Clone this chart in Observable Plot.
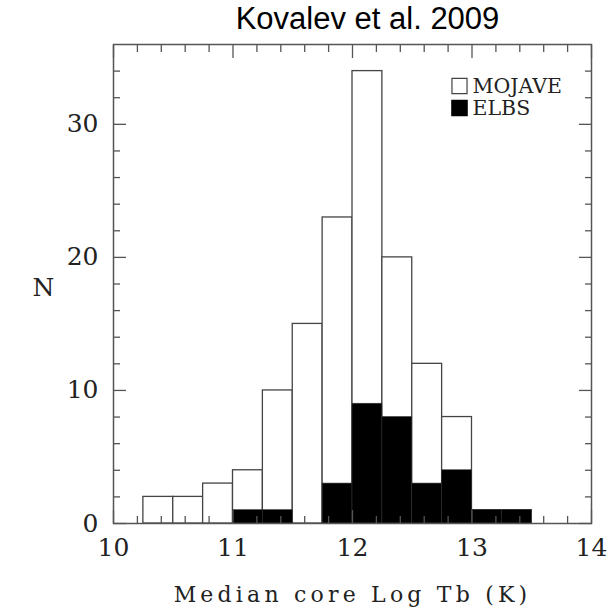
<!DOCTYPE html>
<html>
<head>
<meta charset="utf-8">
<script src="https://cdn.jsdelivr.net/npm/d3@7"></script>
<script src="https://cdn.jsdelivr.net/npm/@observablehq/plot@0.6"></script>
<style>
  body { margin: 0; background: #fff; }
</style>
</head>
<body>
<div id="chart"></div>
<script>
// Histogram bin edges (log Tb, K)
const binLo = [10.25, 10.5, 10.75, 11.0, 11.25, 11.5, 11.75, 12.0, 12.25, 12.5, 12.75, 13.0, 13.25];
const binHi = [10.5, 10.75, 11.0, 11.25, 11.5, 11.75, 12.0, 12.25, 12.5, 12.75, 13.0, 13.25, 13.5];
// Counts
const mojaveCounts = [2, 2, 3, 4, 10, 15, 23, 34, 20, 12, 8, 1, 1];
const elbsCounts   = [0, 0, 0, 1, 1, 0, 3, 9, 8, 3, 4, 1, 1];
// Axis ticks
const xMajor = [10, 11, 12, 13, 14];
const yMajor = [0, 10, 20, 30];
const xMinor = d3.range(10, 14.001, 0.2).map(v => +v.toFixed(1)).filter(v => !xMajor.includes(v));
const yMinor = d3.range(0, 36, 2).filter(v => !yMajor.includes(v));
const seriesNames = ["MOJAVE", "ELBS"];
const title = "Kovalev et al. 2009";
const xLabel = "Median core Log Tb (K)";
const yLabel = "N";

const mojave = binLo.map((lo, i) => ({x1: lo, x2: binHi[i], n: mojaveCounts[i]}));
const elbs = binLo.map((lo, i) => ({x1: lo, x2: binHi[i], n: elbsCounts[i]})).filter(d => d.n > 0);

const serif = "DejaVu Serif";
const frameColor = "#555";
const blank = () => "";

const chart = Plot.plot({
  width: 614,
  height: 612,
  marginLeft: 113,
  marginRight: 23,
  marginTop: 44,
  marginBottom: 89,
  x: {domain: [10, 14]},
  y: {domain: [0, 36]},
  style: {fontFamily: serif, color: "#222", background: "#fff", overflow: "visible"},
  marks: [
    Plot.rectY(mojave, {x1: "x1", x2: "x2", y: "n", fill: "white", stroke: "#444", strokeWidth: 1.3}),
    Plot.rectY(elbs, {x1: "x1", x2: "x2", y: "n", fill: "black", stroke: "#333", strokeWidth: 0.6}),
    Plot.frame({stroke: frameColor, strokeWidth: 1.5}),
    // inward ticks on all four sides
    Plot.axisX({anchor: "bottom", ticks: xMajor, tickSize: -13, tickPadding: 28, tickFormat: d => String(d), fontSize: 25, stroke: frameColor, strokeWidth: 1.3, label: null}),
    Plot.axisX({anchor: "bottom", ticks: xMinor, tickSize: -7, tickFormat: blank, stroke: frameColor, strokeWidth: 1.3, label: null}),
    Plot.axisX({anchor: "top", ticks: xMajor, tickSize: -13, tickFormat: blank, stroke: frameColor, strokeWidth: 1.3, label: null}),
    Plot.axisX({anchor: "top", ticks: xMinor, tickSize: -7, tickFormat: blank, stroke: frameColor, strokeWidth: 1.3, label: null}),
    Plot.axisY({anchor: "left", ticks: yMajor, tickSize: -13, tickPadding: 28, tickFormat: d => String(d), fontSize: 25, stroke: frameColor, strokeWidth: 1.3, label: null}),
    Plot.axisY({anchor: "left", ticks: yMinor, tickSize: -7, tickFormat: blank, stroke: frameColor, strokeWidth: 1.3, label: null}),
    Plot.axisY({anchor: "right", ticks: yMajor, tickSize: -13, tickFormat: blank, stroke: frameColor, strokeWidth: 1.3, label: null}),
    Plot.axisY({anchor: "right", ticks: yMinor, tickSize: -7, tickFormat: blank, stroke: frameColor, strokeWidth: 1.3, label: null}),
    // axis labels
    Plot.text([yLabel], {text: d => d, frameAnchor: "left", lineAnchor: "middle", dx: -81, dy: 4, fontSize: 25, fill: "#222"}),
    Plot.text([xLabel], {text: d => d, frameAnchor: "bottom", lineAnchor: "middle", dy: 71, fontSize: 22, fill: "#222"}),
    Plot.text([title], {text: d => d, frameAnchor: "top", lineAnchor: "middle", dx: 15, dy: -25, fontSize: 31, fontFamily: "Liberation Sans", fill: "#000"}),
    // legend
    Plot.dot([seriesNames[0]], {frameAnchor: "top-right", dx: -132, dy: 41.5, symbol: "square", r: 8.5, fill: "white", stroke: "#444", strokeWidth: 1.2}),
    Plot.dot([seriesNames[1]], {frameAnchor: "top-right", dx: -132, dy: 63.5, symbol: "square", r: 8.5, fill: "black", stroke: "black"}),
    Plot.text([seriesNames[0]], {text: d => d, frameAnchor: "top-right", lineAnchor: "middle", dx: -119, dy: 42, textAnchor: "start", fontSize: 20.5, fill: "#222"}),
    Plot.text([seriesNames[1]], {text: d => d, frameAnchor: "top-right", lineAnchor: "middle", dx: -119, dy: 64, textAnchor: "start", fontSize: 20.5, fill: "#222"})
  ]
});

// spread x label letters like the original
d3.select(chart).selectAll("text").filter(function() { return this.textContent === xLabel; })
  .attr("letter-spacing", "4.2px");

document.getElementById("chart").appendChild(chart);
</script>
</body>
</html>
